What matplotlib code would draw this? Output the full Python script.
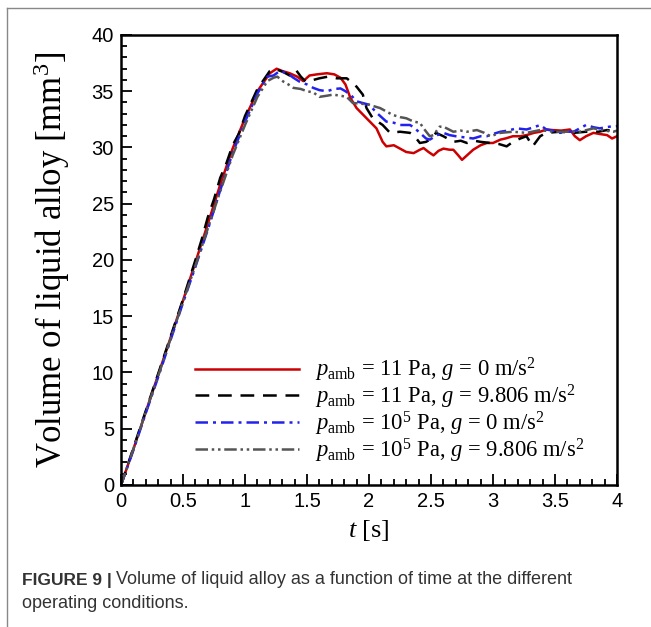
import matplotlib
matplotlib.use("Agg")
import matplotlib.pyplot as plt
from matplotlib.lines import Line2D
from matplotlib.ticker import MultipleLocator, FuncFormatter

plt.rcParams['font.family'] = 'Liberation Sans'
plt.rcParams['mathtext.fontset'] = 'custom'
plt.rcParams['mathtext.rm'] = 'Liberation Serif'
plt.rcParams['mathtext.it'] = 'Liberation Serif:italic'

# red: p_amb = 11 Pa, g = 0
t_red = [0, .1, .2, .3, .4, .5, .6, .7, .8, .9, 1.0, 1.1, 1.2, 1.255, 1.3, 1.36, 1.42, 1.47, 1.52, 1.58,
         1.66, 1.72, 1.77, 1.81, 1.85, 1.90, 1.98, 2.06, 2.11, 2.14, 2.2, 2.25, 2.3, 2.36, 2.41, 2.44,
         2.48, 2.52, 2.56, 2.6, 2.65, 2.68, 2.72, 2.75, 2.8, 2.84, 2.9, 2.95, 3.0, 3.06, 3.1, 3.16,
         3.22, 3.27, 3.33, 3.38, 3.43, 3.48, 3.55, 3.62, 3.66, 3.70, 3.75, 3.81, 3.86, 3.92, 3.96, 4.0]
v_red = [0, 3.2, 6.5, 9.8, 13.1, 16.4, 19.8, 23.2, 26.7, 29.9, 32.6, 35.0, 36.6, 37.0, 36.8, 36.6, 36.3, 35.9, 36.4, 36.5,
         36.6, 36.5, 36.2, 35.6, 34.4, 33.5, 32.6, 31.7, 30.5, 30.1, 30.2, 29.9, 29.6, 29.5, 29.8, 29.95,
         29.6, 29.3, 29.7, 29.9, 29.8, 29.8, 29.3, 28.9, 29.4, 29.8, 30.2, 30.4, 30.4, 30.7, 30.8, 31.0,
         31.0, 31.1, 31.3, 31.4, 31.6, 31.55, 31.5, 31.6, 31.0, 30.65, 31.0, 31.3, 31.2, 31.1, 30.8, 31.0]

# black: p_amb = 11 Pa, g = 9.806
t_blk = [0, .1, .2, .3, .4, .5, .6, .65, .7, .75, .8, .85, .9, .95, 1.0, 1.1, 1.2, 1.24, 1.31, 1.36,
         1.41, 1.45, 1.49, 1.55, 1.6, 1.67, 1.74, 1.82, 1.86, 1.90, 1.95, 1.98, 2.03, 2.11, 2.17, 2.25,
         2.33, 2.36, 2.41, 2.46, 2.49, 2.54, 2.6, 2.68, 2.74, 2.79, 2.85, 2.9, 2.98, 3.05, 3.11, 3.16,
         3.22, 3.27, 3.32, 3.38, 3.43, 3.54, 3.65, 3.75, 3.85, 3.92, 4.0]
v_blk = [0, 3.3, 6.6, 9.9, 13.2, 16.5, 20.0, 21.8, 23.8, 25.4, 27.3, 28.6, 30.2, 31.2, 32.8, 35.2, 36.8, 37.0, 36.7, 36.4,
         36.9, 36.3, 35.85, 36.0, 36.15, 36.3, 36.15, 36.15, 35.8, 35.4, 34.7, 33.5, 32.6, 32.0, 31.3, 31.4,
         31.3, 31.1, 30.4, 30.5, 30.7, 31.3, 31.0, 30.5, 30.6, 30.4, 30.6, 30.5, 30.4, 30.3, 30.1, 30.5,
         30.8, 31.0, 30.1, 31.0, 31.3, 31.4, 31.3, 31.4, 31.4, 31.55, 31.4]

# blue: p_amb = 1e5 Pa, g = 0
t_blu = [0, .1, .2, .3, .4, .5, .6, .7, .8, .9, 1.0, 1.1, 1.18, 1.23, 1.28, 1.34, 1.39, 1.44, 1.5, 1.55,
         1.6, 1.66, 1.72, 1.77, 1.81, 1.85, 1.9, 2.0, 2.07, 2.14, 2.2, 2.25, 2.33, 2.36, 2.41, 2.46,
         2.49, 2.55, 2.6, 2.65, 2.7, 2.77, 2.84, 2.9, 2.95, 3.0, 3.06, 3.12, 3.19, 3.27, 3.33, 3.38,
         3.43, 3.48, 3.54, 3.6, 3.65, 3.7, 3.75, 3.81, 3.86, 3.94, 4.0]
v_blu = [0, 3.1, 6.4, 9.6, 12.9, 16.2, 19.4, 22.7, 26.2, 29.5, 32.3, 34.8, 36.3, 36.4, 36.8, 36.6, 36.2, 35.85, 35.6, 35.3,
         35.1, 35.0, 35.2, 35.25, 35.0, 34.7, 34.1, 33.8, 33.0, 32.3, 32.2, 32.0, 32.0, 31.8, 31.3, 30.8,
         30.7, 31.1, 31.3, 31.1, 31.0, 30.9, 30.8, 31.0, 31.0, 31.2, 31.4, 31.5, 31.7, 31.6, 31.8, 32.0,
         31.6, 31.5, 31.3, 31.4, 31.4, 31.7, 32.0, 31.8, 31.7, 31.85, 31.9]

# grey: p_amb = 1e5 Pa, g = 9.806
t_gry = [0, .1, .2, .3, .4, .5, .6, .7, .8, .9, 1.0, 1.1, 1.18, 1.23, 1.26, 1.31, 1.35, 1.39, 1.45, 1.5,
         1.55, 1.6, 1.66, 1.71, 1.77, 1.82, 1.87, 1.93, 2.0, 2.09, 2.19, 2.25, 2.3, 2.36, 2.41, 2.44,
         2.49, 2.52, 2.57, 2.6, 2.68, 2.74, 2.79, 2.87, 2.93, 2.98, 3.06, 3.16, 3.27, 3.38, 3.48, 3.59,
         3.70, 3.81, 3.9, 3.97, 4.0]
v_gry = [0, 3.2, 6.5, 9.7, 13.0, 16.3, 19.5, 22.8, 26.1, 29.3, 32.0, 34.5, 35.9, 36.2, 36.3, 35.85, 35.6, 35.3, 35.2, 35.0,
         34.9, 34.5, 34.6, 34.7, 34.6, 34.5, 33.95, 33.9, 33.8, 33.5, 32.9, 32.7, 32.6, 32.3, 32.2, 31.7,
         31.0, 31.1, 31.85, 31.85, 31.4, 31.5, 31.4, 31.55, 31.3, 31.0, 31.3, 31.4, 31.3, 31.55, 31.4, 31.4,
         31.4, 31.7, 31.5, 31.4, 31.5]

labels = [r'$p_{\rm amb}$ = 11 Pa, $g$ = 0 m/s$^2$',
          r'$p_{\rm amb}$ = 11 Pa, $g$ = 9.806 m/s$^2$',
          r'$p_{\rm amb}$ = 10$^5$ Pa, $g$ = 0 m/s$^2$',
          r'$p_{\rm amb}$ = 10$^5$ Pa, $g$ = 9.806 m/s$^2$']

fig = plt.figure(figsize=(6.51, 6.27), dpi=100)
ax = fig.add_axes([0.1859, 0.2265, 0.7619, 0.7177])

lw = 1.8
ax.plot(t_red, v_red, color='#cc0000', lw=lw, label=labels[0])
ax.plot(t_blk, v_blk, color='black', lw=lw, dashes=(5.5, 3.5), label=labels[1])
ax.plot(t_blu, v_blu, color='#2222ee', lw=lw, dashes=(5, 2, 1.2, 2), label=labels[2])
ax.plot(t_gry, v_gry, color='#555555', lw=lw, dashes=(5, 1.5, 1, 1.5, 1, 1.5), label=labels[3])

ax.set_xlim(0, 4)
ax.set_ylim(0, 40)
ax.xaxis.set_major_locator(MultipleLocator(0.5))
ax.xaxis.set_minor_locator(MultipleLocator(0.1))
ax.yaxis.set_major_locator(MultipleLocator(5))
ax.yaxis.set_minor_locator(MultipleLocator(1))
ax.xaxis.set_major_formatter(FuncFormatter(lambda v, p: f'{v:g}'))
ax.tick_params(which='both', direction='in', top=False, right=False, labelsize=14.5, width=1.3)
ax.tick_params(which='major', length=8, pad=5)
ax.tick_params(which='minor', length=4)
for s in ax.spines.values():
    s.set_linewidth(1.8)

ax.set_xlabel(r'$t$ [s]', fontsize=19, family='Liberation Serif', labelpad=5)
ax.set_ylabel('Volume of liquid alloy [mm$^3$]', fontsize=25, family='Liberation Serif', labelpad=14)

ax.legend(loc='upper left', bbox_to_anchor=(0.149, 0.287), frameon=False,
          prop={'family': 'Liberation Serif', 'size': 16.3},
          handlelength=4.6, handletextpad=0.7, labelspacing=-0.06, borderpad=0, borderaxespad=0)

# frame of the figure panel
fig.add_artist(Line2D([7 / 651, 1], [1 - 8 / 627, 1 - 8 / 627], color='#888888', lw=1))
fig.add_artist(Line2D([7 / 651, 7 / 651], [0, 1 - 8 / 627], color='#888888', lw=1))

cap1 = fig.text(22 / 651, 1 - 580 / 627, 'FIGURE 9 |', fontsize=12.5, weight='bold', color='#333333', va='center')
plt.annotate('Volume of liquid alloy as a function of time at the different', xy=(1, 0.5), xycoords=cap1,
             xytext=(3, 0), textcoords='offset points', va='center', ha='left',
             fontsize=13, color='#333333')
fig.text(22 / 651, 1 - 603 / 627, 'operating conditions.', fontsize=13, color='#333333', va='center')

fig.savefig('out.png', dpi=100)
